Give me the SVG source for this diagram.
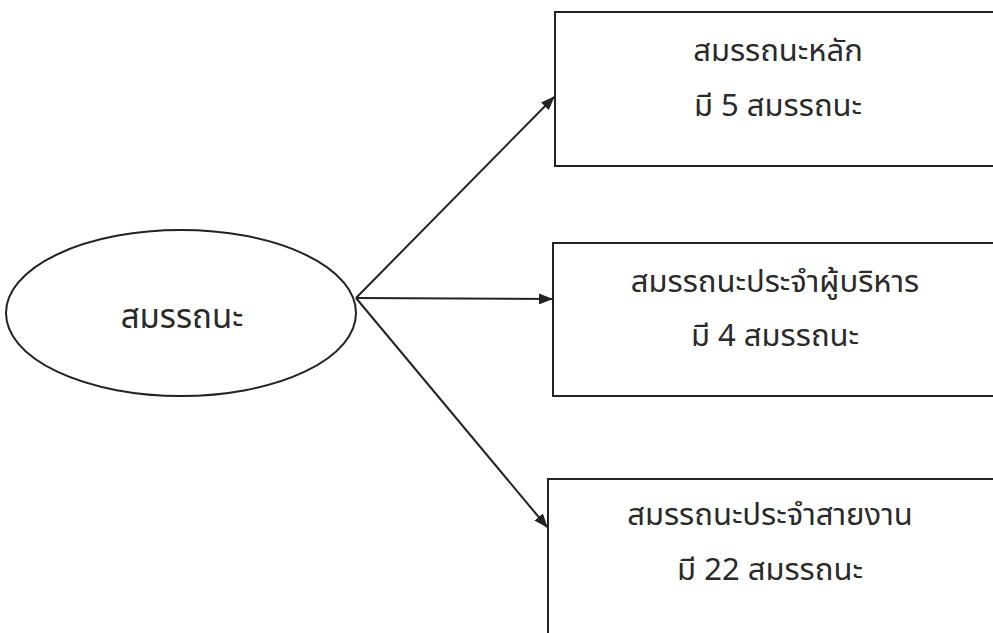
<svg xmlns="http://www.w3.org/2000/svg" width="993" height="633" viewBox="0 0 993 633">
<style>
.shape{fill:#fff;stroke:#222;stroke-width:2}
.lbl{font-family:"Noto Sans Thai","Noto Sans","DejaVu Sans",sans-serif;font-size:31px;fill:#2a2a2a;text-anchor:middle}
.big{font-size:33px}
.conn{stroke:#222;stroke-width:2;fill:none}
</style>
<defs>
<marker id="arr" markerWidth="14" markerHeight="11" refX="13" refY="5.5" orient="auto" markerUnits="userSpaceOnUse">
<path d="M0,0 L14,5.5 L0,11 Z" fill="#222"/>
</marker>
</defs>
<rect width="993" height="633" fill="#fff"/>
<g id="n-root">
<ellipse class="shape" cx="181" cy="313" rx="175" ry="83"/>
<text class="lbl big" x="182" y="328">สมรรถนะ</text>
</g>
<g id="n-core">
<rect class="shape" x="555" y="12" width="445" height="154"/>
<text class="lbl" x="778" y="61">สมรรถนะหลัก</text>
<text class="lbl" x="778" y="116">มี 5 สมรรถนะ</text>
</g>
<g id="n-exec">
<rect class="shape" x="553" y="243" width="445" height="153"/>
<text class="lbl" x="775" y="292">สมรรถนะประจำผู้บริหาร</text>
<text class="lbl" x="775" y="346">มี 4 สมรรถนะ</text>
</g>
<g id="n-line">
<rect class="shape" x="548" y="479" width="450" height="160"/>
<text class="lbl" x="770" y="525">สมรรถนะประจำสายงาน</text>
<text class="lbl" x="770" y="580">มี 22 สมรรถนะ</text>
</g>
<g id="connectors">
<line class="conn" x1="356" y1="298" x2="554" y2="97" marker-end="url(#arr)"/>
<line class="conn" x1="356" y1="298" x2="552" y2="299" marker-end="url(#arr)"/>
<line class="conn" x1="356" y1="298" x2="547" y2="527" marker-end="url(#arr)"/>
</g>
</svg>
